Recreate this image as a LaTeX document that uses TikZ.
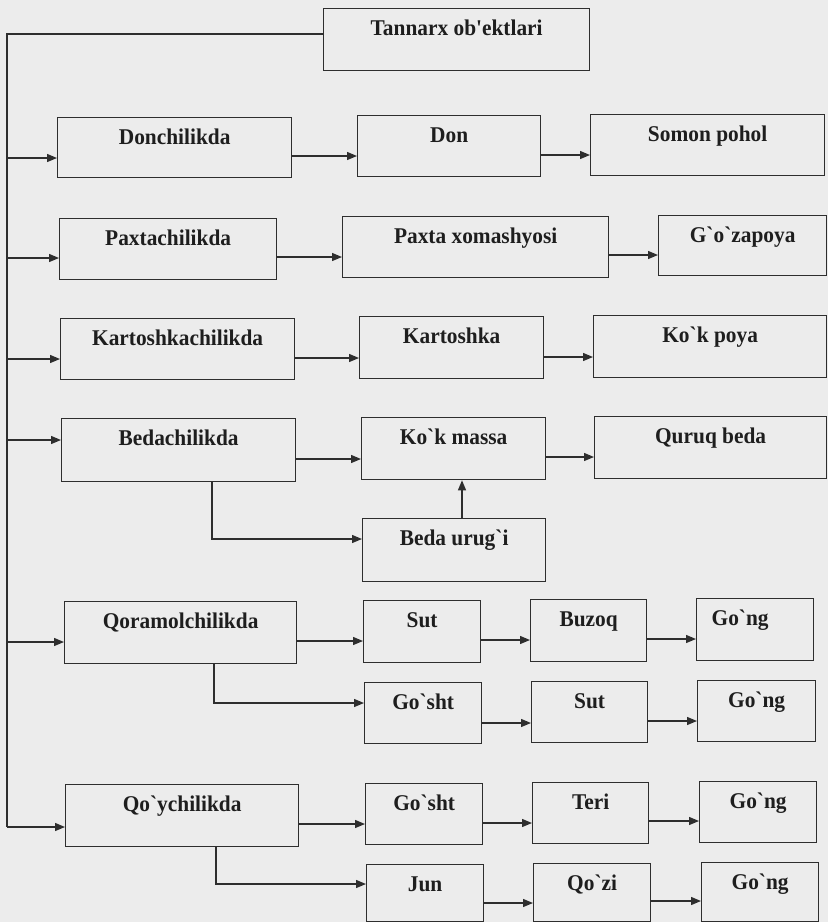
\documentclass[tikz,border=0pt]{standalone}
\usepackage{fontspec}
\setmainfont{Liberation Serif}[Ligatures=TeXOff, FakeStretch=0.95]
\usetikzlibrary{arrows.meta}
\definecolor{bgc}{HTML}{ECECEC}
\definecolor{lnc}{HTML}{2E2E2E}
\definecolor{txc}{HTML}{1E1E1E}
\tikzset{
  ln/.style={draw=lnc, line width=1.3pt},
  arr/.style={ln, -{Triangle[length=10pt,width=8pt]}},
  box/.style={ln, fill=bgc, inner sep=0pt, text height=27pt, text=txc,
    font=\fontsize{22.5}{26}\selectfont\bfseries}
}
\newcommand\bx[6]{%
  \pgfmathsetmacro\bxw{#4-#2}%
  \pgfmathsetmacro\bxd{#5-#3-27}%
  \node[box, minimum width=\bxw pt, text depth=\bxd pt, anchor=north west] (#1) at (#2,#3) {#6};}
\newcommand\ha[3]{%
  \coordinate (tmp) at (0,#3);
  \draw[arr] (#1.east |- tmp) -- (#2.west |- tmp);}
\begin{document}
\begin{tikzpicture}[x=1pt,y=-1pt]
\useasboundingbox (0,0) rectangle (828,922);
\fill[bgc] (0,0) rectangle (828,922);
\begin{scope}
\clip (0,0) rectangle (828,922);
% boxes
\bx{T}{323}{8}{589}{70}{Tannarx ob'ektlari}
\bx{D}{57}{117}{291}{177}{Donchilikda}
\bx{Don}{357}{115}{540}{176}{Don}
\bx{Som}{590}{114}{824}{175}{Somon pohol}
\bx{P}{59}{218}{276}{279}{Paxtachilikda}
\bx{PX}{342}{216}{608}{277}{Paxta xomashyosi}
\bx{G}{658}{215}{826}{275}{G`o`zapoya}
\bx{K}{60}{318}{294}{379}{Kartoshkachilikda}
\bx{Kart}{359}{316}{543}{378}{Kartoshka}
\bx{Kp}{593}{315}{826}{377}{Ko`k poya}
\bx{B}{61}{418}{295}{481}{Bedachilikda}
\bx{Km}{361}{417}{545}{479}{Ko`k massa}
\bx{Qb}{594}{416}{826}{478}{Quruq beda}
\bx{Bu}{362}{518}{545}{581}{Beda urug`i}
\bx{Q}{64}{601}{296}{663}{Qoramolchilikda}
\bx{SutA}{363}{600}{480}{662}{Sut}
\bx{Buz}{530}{599}{646}{661}{Buzoq}
\bx{GnA}{696}{598}{813}{660}{\hspace*{-30pt}Go`ng}
\bx{GoB}{364}{682}{481}{743}{Go`sht}
\bx{SutB}{531}{681}{647}{742}{Sut}
\bx{GnB}{697}{680}{815}{741}{Go`ng}
\bx{Qy}{65}{784}{298}{846}{Qo`ychilikda}
\bx{GoC}{365}{783}{482}{844}{Go`sht}
\bx{Teri}{532}{782}{648}{843}{Teri}
\bx{GnC}{699}{781}{816}{842}{Go`ng}
\bx{Jun}{366}{864}{483}{921}{Jun}
\bx{Qoz}{533}{863}{650}{921}{Qo`zi}
\bx{GnD}{701}{862}{818}{921}{Go`ng}
% spine
\coordinate (sTop) at (7,34);
\coordinate (sBot) at (7,827);
\draw[ln] (T.west |- sTop) -- (sTop) -- (sBot);
\coordinate (s1) at (7,158);
\coordinate (s2) at (7,258);
\coordinate (s3) at (7,359);
\coordinate (s4) at (7,440);
\coordinate (s5) at (7,642);
\draw[arr] (s1) -- (s1 -| D.west);
\draw[arr] (s2) -- (s2 -| P.west);
\draw[arr] (s3) -- (s3 -| K.west);
\draw[arr] (s4) -- (s4 -| B.west);
\draw[arr] (s5) -- (s5 -| Q.west);
\draw[arr] (sBot) -- (sBot -| Qy.west);
% rows
\ha{D}{Don}{156}
\ha{Don}{Som}{155}
\ha{P}{PX}{257}
\ha{PX}{G}{255}
\ha{K}{Kart}{358}
\ha{Kart}{Kp}{357}
\ha{B}{Km}{459}
\ha{Km}{Qb}{457}
\ha{Q}{SutA}{641}
\ha{SutA}{Buz}{640}
\ha{Buz}{GnA}{639}
\ha{GoB}{SutB}{723}
\ha{SutB}{GnB}{721}
\ha{Qy}{GoC}{824}
\ha{GoC}{Teri}{823}
\ha{Teri}{GnC}{821}
\ha{Jun}{Qoz}{903}
\ha{Qoz}{GnD}{901}
% branches
\coordinate (c1) at (212,539);
\draw[arr] (B.south -| c1) -- (c1) -- (c1 -| Bu.west);
\coordinate (c2) at (462,0);
\draw[arr] (Bu.north -| c2) -- (Km.south -| c2);
\coordinate (c3) at (214,703);
\draw[arr] (Q.south -| c3) -- (c3) -- (c3 -| GoB.west);
\coordinate (c4) at (216,884);
\draw[arr] (Qy.south -| c4) -- (c4) -- (c4 -| Jun.west);
\end{scope}
\end{tikzpicture}
\end{document}
